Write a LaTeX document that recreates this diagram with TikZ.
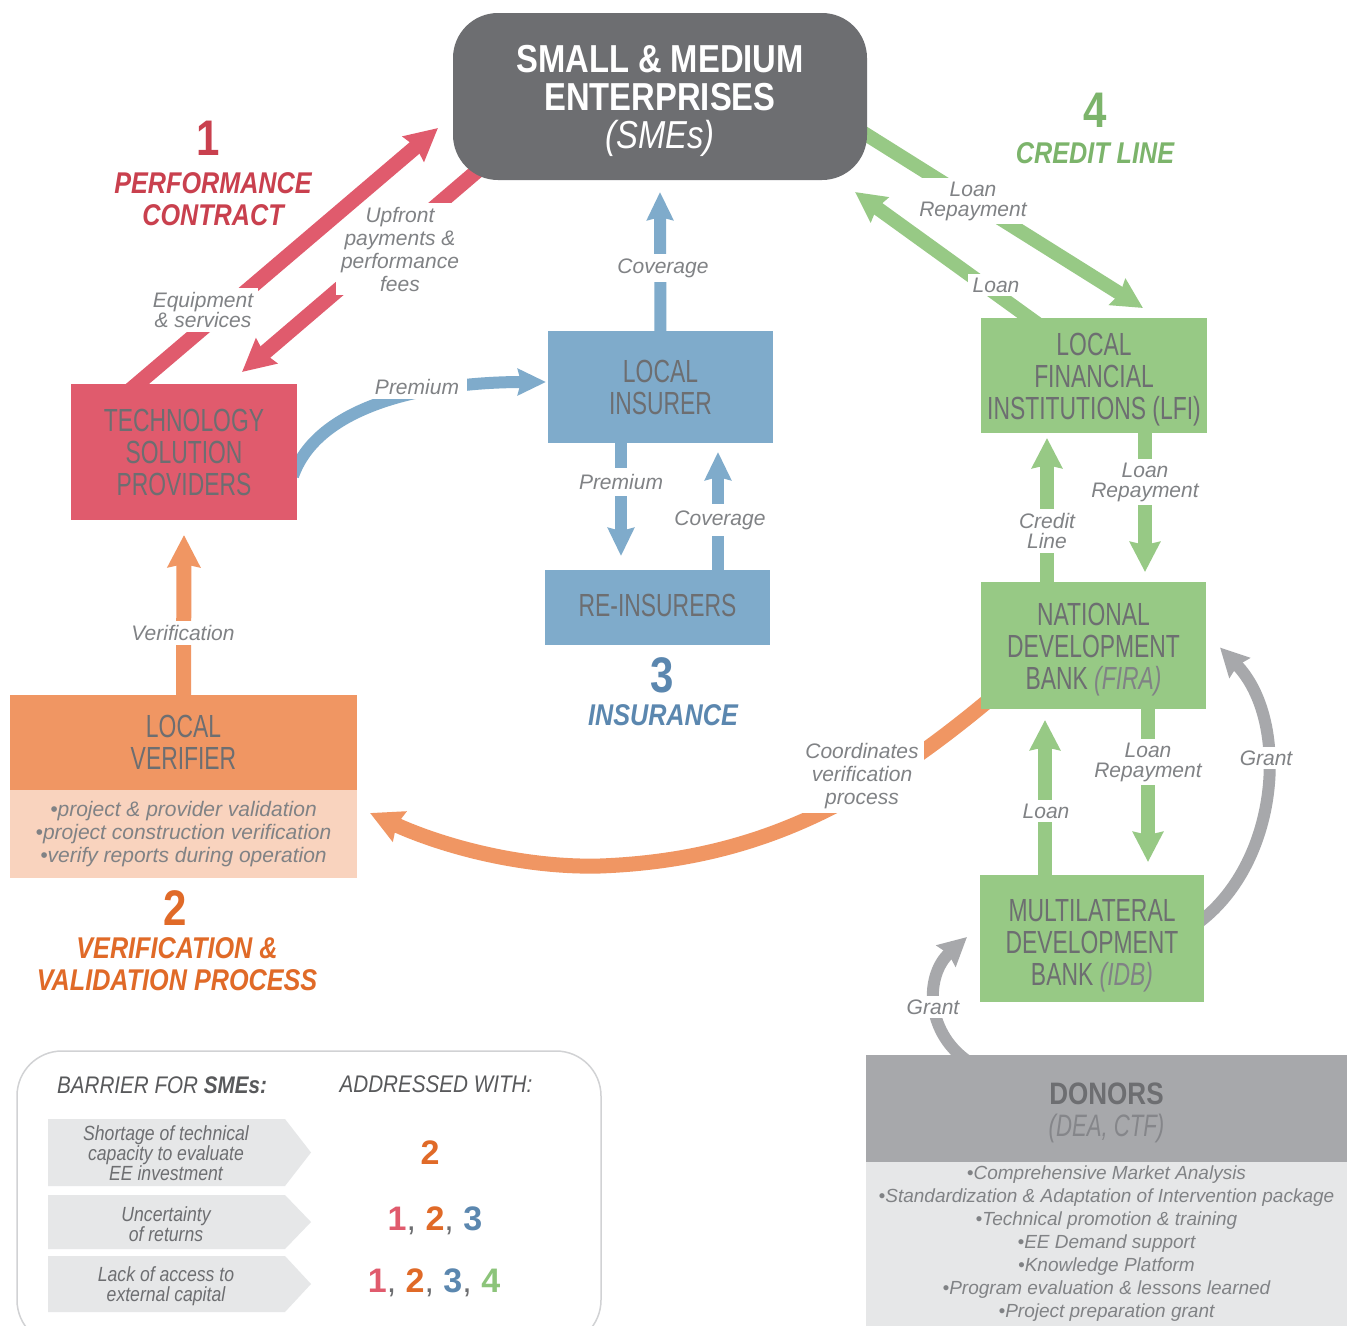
\documentclass[tikz,border=0pt]{standalone}
\usepackage{fontspec}
\setmainfont{Liberation Sans}
\newfontfamily\boxf[FakeStretch=0.715]{Liberation Sans}
\newfontfamily\titf[FakeStretch=0.84]{Liberation Sans}
\newfontfamily\legf[FakeStretch=0.86]{Liberation Sans}
\usetikzlibrary{arrows.meta,calc,backgrounds}
\definecolor{smegray}{HTML}{6D6E71}
\definecolor{tgray}{HTML}{6D6E71}
\definecolor{lgray}{HTML}{808285}
\definecolor{donsub}{HTML}{85868A}
\definecolor{dgray}{HTML}{58595B}
\definecolor{boxred}{HTML}{E05B6D}
\definecolor{cred}{HTML}{C9404E}
\definecolor{boxblue}{HTML}{7FABCB}
\definecolor{cblue}{HTML}{5B87AF}
\definecolor{boxgreen}{HTML}{97C985}
\definecolor{cgreen}{HTML}{7CB46B}
\definecolor{lgreen}{HTML}{8CC47A}
\definecolor{boxorange}{HTML}{F09663}
\definecolor{lightorange}{HTML}{F9D3BE}
\definecolor{corange}{HTML}{E06A28}
\definecolor{dongray}{HTML}{A7A8AB}
\definecolor{palegray}{HTML}{E6E7E8}
\definecolor{legborder}{HTML}{D1D2D4}
\begin{document}
\begin{tikzpicture}[x=1pt,y=-1pt,
  box/.style={rectangle,inner sep=0pt,outer sep=0pt,align=center,text=tgray,font=\boxf\fontsize{32}{32}\selectfont},
  btxt/.style={box,fill=none},
  lab/.style={fill=white,inner xsep=5pt,inner ysep=4pt,align=center,text=lgray,font=\itshape\fontsize{21}{20}\selectfont},
  labw/.style={lab,font=\itshape\fontsize{21}{23}\selectfont},
  conn/.style={line width=14pt,-{Stealth[length=30pt,width=30pt,inset=3pt]}},
  redc/.style={conn,draw=boxred,line width=15pt,-{Stealth[length=32pt,width=32pt,inset=3pt]}},
  bluec/.style={conn,draw=boxblue,line width=12pt,-{Stealth[length=28pt,width=26pt,inset=3pt]}},
  greenc/.style={conn,draw=boxgreen},
  orangec/.style={conn,draw=boxorange,line width=15pt,-{Stealth[length=32pt,width=32pt,inset=3pt]}},
  grayc/.style={conn,draw=dongray,line width=12pt,-{Stealth[length=28pt,width=28pt,inset=3pt]}},
  ttl/.style={inner sep=0pt,align=center,font=\titf\bfseries\itshape\fontsize{30}{32}\selectfont},
  num/.style={inner sep=0pt,font=\titf\bfseries\fontsize{50}{50}\selectfont},
  rowtxt/.style={inner sep=0pt,align=center,text=tgray,font=\legf\itshape\fontsize{20.5}{20}\selectfont},
  lnum/.style={inner sep=0pt,anchor=base,font=\bfseries\fontsize{34}{34}\selectfont},
  hdr/.style={inner sep=0pt,text=dgray,font=\legf\itshape\fontsize{24}{24}\selectfont},
]
\useasboundingbox (0,0) rectangle (1353,1326);

% ---------- boxes ----------
\node[box,fill=smegray,rounded corners=45pt,minimum width=414pt,minimum height=167pt] (sme) at (660,96.5) {};
\node[btxt,text=white,font=\titf\bfseries\fontsize{39}{38}\selectfont] (smet) at ($(sme)+(0,4.5)$) {SMALL \& MEDIUM\\ENTERPRISES\\{\mdseries\itshape (SMEs)}};
\node[box,fill=boxred,minimum width=226pt,minimum height=136pt] (tsp) at (184,452) {TECHNOLOGY\\SOLUTION\\PROVIDERS};
\node[box,fill=boxblue,minimum width=225pt,minimum height=112pt] (ins) at (660.5,387) {LOCAL\\INSURER};
\node[box,fill=boxblue,minimum width=225pt,minimum height=75pt] (rei) at (657.5,607.5) {};
\node[btxt] (reit) at ($(rei)+(0,-2)$) {RE-INSURERS};
\node[box,fill=boxgreen,minimum width=226pt,minimum height=115pt] (lfi) at (1094,375.5) {};
\node[btxt] (lfit) at ($(lfi)+(0,4)$) {LOCAL\\FINANCIAL\\INSTITUTIONS (LFI)};
\node[box,fill=boxgreen,minimum width=225pt,minimum height=127pt] (ndb) at (1093.5,645.5) {};
\node[btxt] (ndbt) at ($(ndb)+(0,4)$) {NATIONAL\\DEVELOPMENT\\BANK {\itshape\color{lgray}(FIRA)}};
\node[box,fill=boxgreen,minimum width=224pt,minimum height=127pt] (mdb) at (1092,938.5) {};
\node[btxt] (mdbt) at ($(mdb)+(0,7)$) {MULTILATERAL\\DEVELOPMENT\\BANK {\itshape\color{lgray}(IDB)}};
\node[box,fill=boxorange,minimum width=347pt,minimum height=95pt] (ver) at (183.5,742.5) {LOCAL\\VERIFIER};
\node[box,fill=lightorange,minimum width=347pt,minimum height=88pt,text=lgray,font=\itshape\fontsize{21}{23}\selectfont] (verb) at (183.5,834) {•project \& provider validation\\•project construction verification\\•verify reports during operation};
\node[box,fill=dongray,minimum width=481pt,minimum height=107pt] (don) at (1106.5,1108.5) {};
\node[btxt] (dont) at ($(don)+(0,4)$) {{\titf\bfseries\fontsize{31}{32}\selectfont DONORS}\\{\itshape\color{donsub}\fontsize{31}{32}\selectfont (DEA, CTF)}};
\node[box,fill=palegray,minimum width=481pt,minimum height=164pt,text=lgray,font=\itshape\fontsize{19}{23}\selectfont] (donb) at (1106.5,1244) {•Comprehensive Market Analysis\\•Standardization \& Adaptation of Intervention package\\•Technical promotion \& training\\•EE Demand support\\•Knowledge Platform\\•Program evaluation \& lessons learned\\•Project preparation grant};

% ---------- titles ----------
\node[num,text=cred] (t1n) at (208,138) {1};
\node[ttl,text=cred] (t1) at (213,199) {PERFORMANCE\\CONTRACT};
\node[num,text=corange] (t2n) at (175,908) {2};
\node[ttl,text=corange] (t2) at (177,964) {VERIFICATION \&\\VALIDATION PROCESS};
\node[num,text=cblue] (t3n) at (662,675) {3};
\node[ttl,text=cblue] (t3) at (663,715) {INSURANCE};
\node[num,text=cgreen] (t4n) at (1095,110) {4};
\node[ttl,text=cgreen] (t4) at (1095,153) {CREDIT LINE};

% ---------- legend ----------
\node[draw=legborder,line width=1.5pt,rounded corners=45pt,minimum width=584pt,minimum height=294pt,inner sep=0pt] (legend) at (309,1198) {};
\node[hdr] (hb) at (162,1085) {BARRIER FOR {\bfseries SMEs:}};
\node[hdr] (ha) at (436,1084) {ADDRESSED WITH:};
\fill[palegray] (48,1119) -- (285,1119) -- (311,1152.5) -- (285,1186) -- (48,1186) -- cycle;
\fill[palegray] (48,1195) -- (285,1195) -- (311,1222) -- (285,1249) -- (48,1249) -- cycle;
\fill[palegray] (48,1256) -- (285,1256) -- (311,1284) -- (285,1312) -- (48,1312) -- cycle;
\node[rowtxt] (r1) at (166,1153) {Shortage of technical\\capacity to evaluate\\EE investment};
\node[rowtxt] (r2) at (166,1224) {Uncertainty\\of returns};
\node[rowtxt] (r3) at (166,1286) {Lack of access to\\external capital};
\node[lnum,text=corange] (n1) at (430,1164) {2};
\node[lnum] (n2) at (435,1230) {\color{boxred}1{\color{tgray}\mdseries,} \color{corange}2{\color{tgray}\mdseries,} \color{cblue}3};
\node[lnum] (n3) at (434,1292) {\color{boxred}1{\color{tgray}\mdseries,} \color{corange}2{\color{tgray}\mdseries,} \color{cblue}3{\color{tgray}\mdseries,} \color{lgreen}4};

% ---------- connectors ----------
\begin{scope}[on background layer]
\fill[white] (0,0) rectangle (1353,1326);
% red
\draw[redc] ($(sme.south west)+(37,-20)$) -- ($(tsp.north west)+(171,-12)$);
\node[labw] (lu) at (400,249) {Upfront\\payments \&\\performance\\fees};
\draw[redc] ($(tsp.north west)+(57,8)$) -- ($(sme.west)+(-15,31.5)$);
\node[lab] (le) at (203,310) {Equipment\\\& services};
% blue
\draw[bluec] ($(tsp.east)+(-4,24)$) .. controls (320,400) and (440,382) .. ($(ins.west)+(-2,-5)$);
\node[lab,inner xsep=8pt] (lp1) at (417,387) {Premium};
\draw[bluec] ($(ins.north)+(0,5)$) -- ($(sme.south)+(0,12)$);
\node[lab] (lc1) at (663,268) {Coverage};
\draw[bluec] ($(ins.south west)+(73,-5)$) -- ($(rei.north west)+(76,-14)$);
\node[lab,inner ysep=6pt] (lp2) at (621,482) {Premium};
\draw[bluec] ($(rei.north west)+(173,5)$) -- ($(ins.south west)+(170,9)$);
\node[lab,inner ysep=6pt] (lc2) at (720,520) {Coverage};
% green
\draw[greenc] ($(sme.east)+(-12,31)$) -- ($(lfi.north east)+(-64,-10)$);
\node[lab] (lr1) at (973,201) {Loan\\Repayment};
\draw[greenc] ($(lfi.north west)+(61,9)$) -- ($(sme.east)+(-12,95.5)$);
\node[lab] (ll1) at (996,285) {Loan};
\draw[greenc] ($(ndb.north west)+(66,5)$) -- ($(lfi.south west)+(66,5)$);
\node[lab] (lcl) at (1047,531) {Credit\\Line};
\draw[greenc] ($(lfi.south west)+(164,-5)$) -- ($(ndb.north west)+(164,-10)$);
\node[lab] (lr2) at (1145,482) {Loan\\Repayment};
\draw[greenc] ($(mdb.north west)+(65,5)$) -- ($(ndb.south west)+(64,11)$);
\node[lab] (ll2) at (1046,811) {Loan};
\draw[greenc] ($(ndb.south west)+(167,-5)$) -- ($(mdb.north west)+(168,-13)$);
\node[lab] (lr3) at (1148,762) {Loan\\Repayment};
% gray
\draw[grayc] ($(mdb.east)+(-4,-17)$) .. controls (1280,860) and (1290,720) .. ($(ndb.east)+(14,2)$);
\node[lab] (lg1) at (1266,758) {Grant};
\draw[grayc] ($(don.north west)+(100,5)$) .. controls (925,1030) and (925,975) .. ($(mdb.west)+(-13,-1.5)$);
\node[lab] (lg2) at (933,1007) {Grant};
% orange
\draw[orangec] ($(ver.north)+(0,5)$) -- ($(tsp.south)+(0,15)$);
\node[lab] (lv) at (183,633) {Verification};
\draw[orangec] ($(ndb.south west)+(14,-14)$) .. controls (870,800) and (760,860) .. (600,866) .. controls (520,868) and (440,845) .. ($(verb.east)+(13,-21)$);
\node[labw] (lcv) at (862,776) {Coordinates\\verification\\process};
\end{scope}
\end{tikzpicture}
\end{document}
